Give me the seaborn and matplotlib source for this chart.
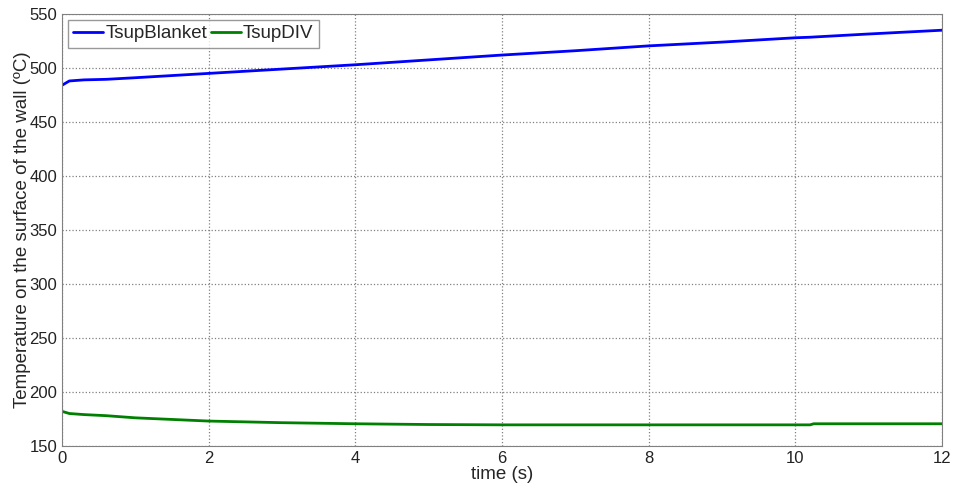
import pandas as pd
import matplotlib.pyplot as plt
import seaborn as sns

# values
time_s = [0, 0.1, 0.3, 0.6, 1, 1.5, 2, 3, 4, 5, 6, 7, 8, 9, 10, 10.2, 10.25, 11, 12]
tsup_blanket = [484, 488, 489, 489.5, 491, 493, 495, 499, 503, 507.5, 512, 516, 520.5, 524, 528, 528.5, 528.7, 531.5, 535]
tsup_div = [182, 180, 179, 178, 176, 174.5, 173, 171.5, 170.5, 169.8, 169.5, 169.5, 169.5, 169.5, 169.5, 169.5, 170.5, 170.5, 170.5]

df = pd.DataFrame({"time": time_s * 2,
                   "temp": tsup_blanket + tsup_div,
                   "series": ["TsupBlanket"] * len(time_s) + ["TsupDIV"] * len(time_s)})

sns.set_style("white")
plt.rcParams["font.family"] = ["Liberation Sans", "DejaVu Sans"]

fig = plt.figure(figsize=(9.54, 4.9), dpi=100)
ax = fig.add_axes([0.065, 0.09, 0.9225, 0.8814])

sns.lineplot(data=df, x="time", y="temp", hue="series",
             palette={"TsupBlanket": "#0000ff", "TsupDIV": "#008000"},
             linewidth=2.0, ax=ax)

ax.set_xlim(0, 12)
ax.set_ylim(150, 550)
ax.set_xticks(range(0, 13, 2))
ax.set_yticks(range(150, 551, 50))
ax.grid(True, linestyle=":", color="#808080", linewidth=0.9)
for s in ax.spines.values():
    s.set_color("#808080")
ax.tick_params(labelsize=12, colors="#222222", direction="in", length=4)
ax.tick_params(axis="both", color="#808080")

ax.set_xlabel("time (s)", fontsize=13.5, labelpad=0)
ax.set_ylabel("Temperature on the surface of the wall (\u00baC)", fontsize=13.5, labelpad=-1)

leg = ax.legend(loc="upper left", ncol=2, fontsize=13.5, frameon=True, fancybox=False,
                handlelength=1.6, handletextpad=0.1, columnspacing=0.2,
                borderaxespad=0.3, borderpad=0.3)
leg.get_frame().set_edgecolor("#808080")
leg.get_frame().set_linewidth(1.0)

fig.savefig("out.png", dpi=100)
